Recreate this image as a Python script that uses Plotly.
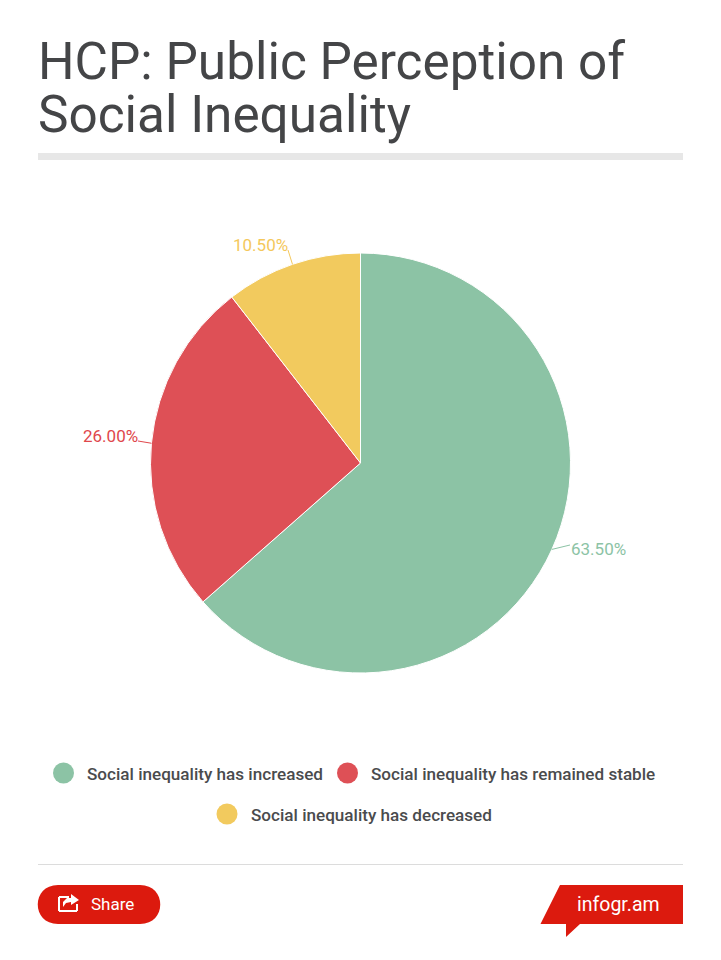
import math
import plotly.graph_objects as go

W, H = 721, 960

title_lines = ["HCP: Public Perception of", "Social Inequality"]
categories = [
    "Social inequality has increased",
    "Social inequality has remained stable",
    "Social inequality has decreased",
]
values = [63.5, 26.0, 10.5]
colors = ["#8cc3a5", "#de5056", "#f2ca5e"]
label_colors = ["#8cc3a5", "#e0474c", "#f4c85c"]
RED = "#dc1a0e"
INK = "#444547"

# Pie geometry in page pixels
CX, CY, R = 360.5, 463, 210


def px(x):
    return x / W


def py(y):
    return 1 - y / H


def text(x, y, s, size, color, anchor="left", family="Roboto", weight=400):
    return dict(
        x=px(x), y=py(y), xref="paper", yref="paper", text=s, showarrow=False,
        xanchor=anchor, yanchor="middle", borderpad=0, borderwidth=0,
        font=dict(family=family, size=size, color=color, weight=weight),
    )


def rect_line(x0, y0, x1, y1, color, width=1):
    return dict(type="line", xref="paper", yref="paper",
                x0=px(x0), y0=py(y0), x1=px(x1), y1=py(y1),
                line=dict(color=color, width=width))


def polygon(points, fill, line_color=None, line_width=0):
    d = "M" + " L".join(f"{px(x):.5f},{py(y):.5f}" for x, y in points) + " Z"
    return dict(type="path", xref="paper", yref="paper", path=d, fillcolor=fill,
                line=dict(color=line_color or fill, width=line_width))


def dot(x, y, r, color):
    return dict(type="circle", xref="paper", yref="paper",
                x0=px(x - r), x1=px(x + r), y0=py(y - r), y1=py(y + r),
                fillcolor=color, line=dict(width=0))


fig = go.Figure(
    go.Pie(
        labels=categories,
        values=values,
        sort=False,
        direction="clockwise",
        rotation=0,
        textinfo="none",
        marker=dict(colors=colors, line=dict(color="#ffffff", width=1)),
        domain=dict(x=[px(CX - R), px(CX + R)], y=[py(CY + R), py(CY - R)]),
        showlegend=False,
    )
)

shapes = []
annotations = []

# Heading and rule beneath it
annotations.append(text(38, 62, title_lines[0], 51.3, INK))
annotations.append(text(38, 114, title_lines[1], 51.3, INK))
shapes.append(polygon([(38, 153), (683, 153), (683, 160), (38, 160)], "#e7e7e7"))

# Value labels with short leader lines from each slice's mid-angle
label_layout = [
    (571, 549, "left", 570, 545),
    (138, 436, "right", 138, 441),
    (288, 245, "right", 288, 250),
]
running = 0.0
total = sum(values)
for v, col, (lx, ly, anc, ex, ey) in zip(values, label_colors, label_layout):
    mid = (running + v / 2) / total * 2 * math.pi
    running += v
    sx = CX + R * math.sin(mid)
    sy = CY - R * math.cos(mid)
    shapes.append(rect_line(sx, sy, ex, ey, col, 1))
    annotations.append(text(lx, ly, f"{v:.2f}%", 17, col, anc))

# Legend rows
legend_layout = [(63.5, 773), (347.5, 773), (227, 814)]
for (x, y), col, name in zip(legend_layout, colors, categories):
    shapes.append(dot(x, y, 10.5, col))
    annotations.append(text(x + 23.5, y + 1, name, 17.1, "#4a4b4d", weight=500))

# Footer rule, share button and brand tag
shapes.append(rect_line(38, 864.5, 683, 864.5, "#dcdcdc", 1))
shapes.append(dict(type="path", xref="paper", yref="paper", fillcolor=RED, line=dict(width=0),
                   path=(f"M{px(58):.5f},{py(885):.5f} L{px(140):.5f},{py(885):.5f} "
                         f"C{px(167):.5f},{py(885):.5f} {px(167):.5f},{py(924):.5f} {px(140):.5f},{py(924):.5f} "
                         f"L{px(58):.5f},{py(924):.5f} "
                         f"C{px(31):.5f},{py(924):.5f} {px(31):.5f},{py(885):.5f} {px(58):.5f},{py(885):.5f} Z")))
annotations.append(text(91, 904, "Share", 17, "#ffffff"))

# Share glyph: open tray with an arrow leaving it
for seg in [((69, 897), (59, 897)), ((59, 897), (59, 911)), ((59, 911), (77, 911)), ((77, 911), (77, 904))]:
    shapes.append(rect_line(seg[0][0], seg[0][1], seg[1][0], seg[1][1], "#ffffff", 2))
shapes.append(polygon([(71, 894), (79, 900), (71, 905), (71, 902), (66, 903), (63, 907),
                       (63, 902), (67, 898), (71, 898)], "#ffffff"))

shapes.append(polygon([(560, 885), (683, 885), (683, 924), (580, 924), (566, 937), (566, 924), (540.5, 924)], RED))
annotations.append(text(618, 904, "infogr.am", 19.5, "#ffffff", "center"))

fig.update_layout(
    width=W, height=H, autosize=False,
    margin=dict(l=0, r=0, t=0, b=0),
    paper_bgcolor="#ffffff",
    shapes=shapes,
    annotations=annotations,
)

fig.write_html("out.html", config=dict(displayModeBar=False))
